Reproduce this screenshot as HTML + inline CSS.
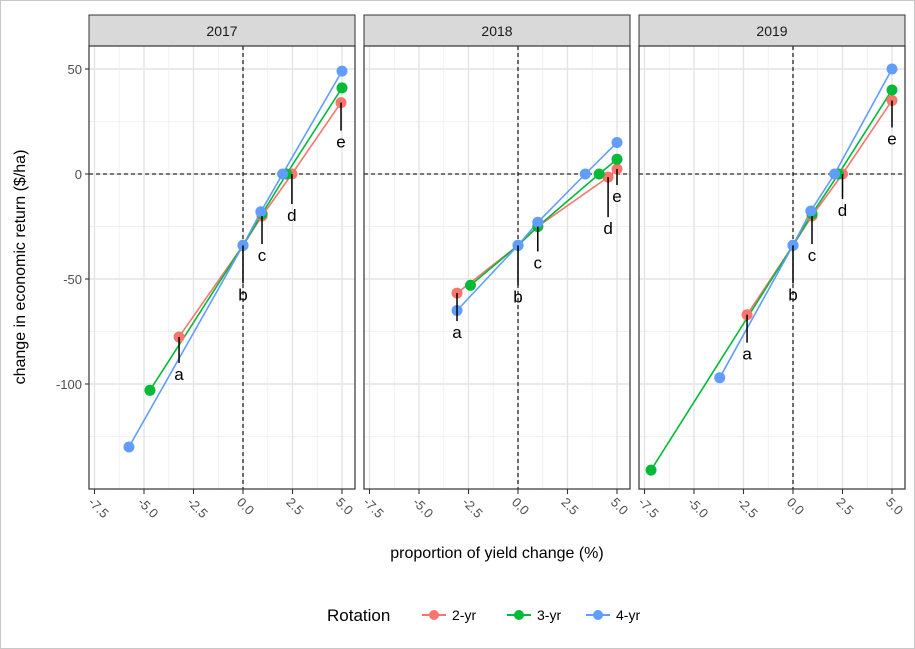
<!DOCTYPE html>
<html><head><meta charset="utf-8"><style>
body{margin:0;background:#fff}
svg{display:block;font-family:"Liberation Sans",Arial,sans-serif}
</style></head><body>
<svg id="chart" width="915" height="649" viewBox="0 0 915 649">
<rect x="0.5" y="0.5" width="914" height="648" fill="#fff" stroke="#c8c8c8"/>
<g id="panels"></g>
<text x="25" y="267" transform="rotate(-90 25 267)" text-anchor="middle" font-size="16" fill="#000">change in economic return ($/ha)</text>
<text x="497" y="558" text-anchor="middle" font-size="16" fill="#000">proportion of yield change (%)</text>
<g id="legend"></g>
</svg>
<script>
const years = ["2017","2018","2019"];
const series = ["2-yr","3-yr","4-yr"];
const xTicks = [-7.5,-5,-2.5,0,2.5,5];
const xTickLabels = ["-7.5","-5.0","-2.5","0.0","2.5","5.0"];
const yTicks = [-100,-50,0,50];
const yTickLabels = ["-100","-50","0","50"];
const x2017_2yr = [-3.23,0,0.96,2.47,4.95];
const y2017_2yr = [-77.6,-34,-20,0,34];
const x2017_3yr = [-4.7,0,0.96,2.2,5];
const y2017_3yr = [-103,-34,-19,0,41];
const x2017_4yr = [-5.76,0,0.9,2.0,5];
const y2017_4yr = [-130,-34,-18,0,49];
const x2018_2yr = [-3.08,0,1.0,4.55,5];
const y2018_2yr = [-56.7,-34,-25,-1.5,2.4];
const x2018_3yr = [-2.4,0,1.0,4.1,5];
const y2018_3yr = [-53,-34,-25,0,7];
const x2018_4yr = [-3.08,0,1.0,3.4,5];
const y2018_4yr = [-65,-34,-23,0,15];
const x2019_2yr = [-2.32,0,0.96,2.5,5];
const y2019_2yr = [-67,-34,-20,0,35];
const x2019_3yr = [-7.17,0,0.96,2.3,5];
const y2019_3yr = [-141,-34,-19,0,40];
const x2019_4yr = [-3.7,0,0.9,2.1,5];
const y2019_4yr = [-97,-34,-17.6,0,50];
const labels = ["a","b","c","d","e"];
const labelDrop = [[26,38,28,30,28],[28,40,25,40,16],[28,38,28,25,27]];
const colors = ["#f8766d","#00ba38","#619cff"];
const data = {
 "2017":[[x2017_2yr,y2017_2yr],[x2017_3yr,y2017_3yr],[x2017_4yr,y2017_4yr]],
 "2018":[[x2018_2yr,y2018_2yr],[x2018_3yr,y2018_3yr],[x2018_4yr,y2018_4yr]],
 "2019":[[x2019_2yr,y2019_2yr],[x2019_3yr,y2019_3yr],[x2019_4yr,y2019_4yr]]
};
const NS="http://www.w3.org/2000/svg";
function mk(tag,attrs,parent){const e=document.createElementNS(NS,tag);for(const k in attrs)e.setAttribute(k,attrs[k]);parent.appendChild(e);return e;}
const panelLeft=[89,364,639], panelW=266, panelTop=46, panelBottom=489;
const xUnit=19.8;
function ys(v){return 174-v*2.1;}
const root=document.getElementById("panels");
years.forEach((yr,pi)=>{
  const L=panelLeft[pi], x0=L+154;
  const xs=v=>x0+v*xUnit;
  const g=mk("g",{},root);
  
  
  const strip=mk("rect",{x:L,y:15,width:panelW,height:31,fill:"#d9d9d9",stroke:"#333","stroke-width":1},g);
  
  
  const st=mk("text",{x:L+panelW/2,y:36,"text-anchor":"middle","font-size":14,fill:"#1a1a1a"},g);
  st.textContent=yr;
  
  
  mk("rect",{x:L,y:panelTop,width:panelW,height:panelBottom-panelTop,fill:"#fff"},g);
  for(let v=-8.75;v<=6.25;v+=2.5){const X=xs(v);if(X>L&&X<L+panelW)mk("line",{x1:X,x2:X,y1:panelTop,y2:panelBottom,stroke:"#ededed","stroke-width":0.8},g);}
  [-125,-75,-25,25].forEach(v=>mk("line",{x1:L,x2:L+panelW,y1:ys(v),y2:ys(v),stroke:"#ededed","stroke-width":0.8},g));
  xTicks.forEach(v=>mk("line",{x1:xs(v),x2:xs(v),y1:panelTop,y2:panelBottom,stroke:"#e4e4e4","stroke-width":1.4},g));
  yTicks.forEach(v=>mk("line",{x1:L,x2:L+panelW,y1:ys(v),y2:ys(v),stroke:"#e4e4e4","stroke-width":1.4},g));
  mk("line",{x1:xs(0),x2:xs(0),y1:panelTop,y2:panelBottom,stroke:"#000","stroke-dasharray":"4,3","stroke-width":1.1},g);
  mk("line",{x1:L,x2:L+panelW,y1:ys(0),y2:ys(0),stroke:"#000","stroke-dasharray":"4,3","stroke-width":1.1},g);
  data[yr].forEach((s,si)=>{
    const [xv,yv]=s;
    const pts=xv.map((v,i)=>xs(v)+","+ys(yv[i])).join(" ");
    const pl=mk("polyline",{points:pts,fill:"none",stroke:colors[si],"stroke-width":1.6},g);
    
    
  });
  data[yr].forEach((s,si)=>{
    const [xv,yv]=s;
    xv.forEach((v,i)=>{
      const c=mk("circle",{cx:xs(v),cy:ys(yv[i]),r:5.5,fill:colors[si]},g);
      
      
    });
  });
  const [rx,ry]=data[yr][0];
  labels.forEach((lb,i)=>{
    const X=xs(rx[i]),Y=ys(ry[i]),d=labelDrop[pi][i];
    mk("line",{x1:X,x2:X,y1:Y,y2:Y+d,stroke:"#000","stroke-width":1.5},g);
    const t=mk("text",{x:X,y:Y+d+17,"text-anchor":"middle","font-size":17,fill:"#000"},g);
    t.textContent=lb;
    
    
  });
  mk("rect",{x:L,y:panelTop,width:panelW,height:panelBottom-panelTop,fill:"none",stroke:"#333","stroke-width":1.2},g);
  xTicks.forEach((v,i)=>{
    const X=xs(v);
    mk("line",{x1:X,x2:X,y1:panelBottom,y2:panelBottom+5,stroke:"#333","stroke-width":1.1},g);
    const t=mk("text",{x:X-7,y:panelBottom+14,transform:`rotate(45 ${X-7} ${panelBottom+14})`,"font-size":13,fill:"#4d4d4d"},g);
    t.textContent=xTickLabels[i];
    
    
  });
  if(pi===0){
    yTicks.forEach((v,i)=>{
      mk("line",{x1:L-4,x2:L,y1:ys(v),y2:ys(v),stroke:"#333","stroke-width":1.1},g);
      const t=mk("text",{x:L-7,y:ys(v)+5,"text-anchor":"end","font-size":13,fill:"#4d4d4d"},g);
      t.textContent=yTickLabels[i];
      
      
    });
  }
});
const lg=document.getElementById("legend");
const lt=mk("text",{x:327,y:621,"font-size":17,fill:"#000"},lg);
lt.textContent="Rotation";


const keyX=[422,507,586];
series.forEach((s,i)=>{
  const e=mk("g",{},lg);
  
  
  mk("line",{x1:keyX[i],x2:keyX[i]+24,y1:615,y2:615,stroke:colors[i],"stroke-width":2},e);
  mk("circle",{cx:keyX[i]+12,cy:615,r:5,fill:colors[i]},e);
  const t=mk("text",{x:keyX[i]+30,y:620,"font-size":14,fill:"#000"},e);
  t.textContent=s;
});
</script>
</body></html>
